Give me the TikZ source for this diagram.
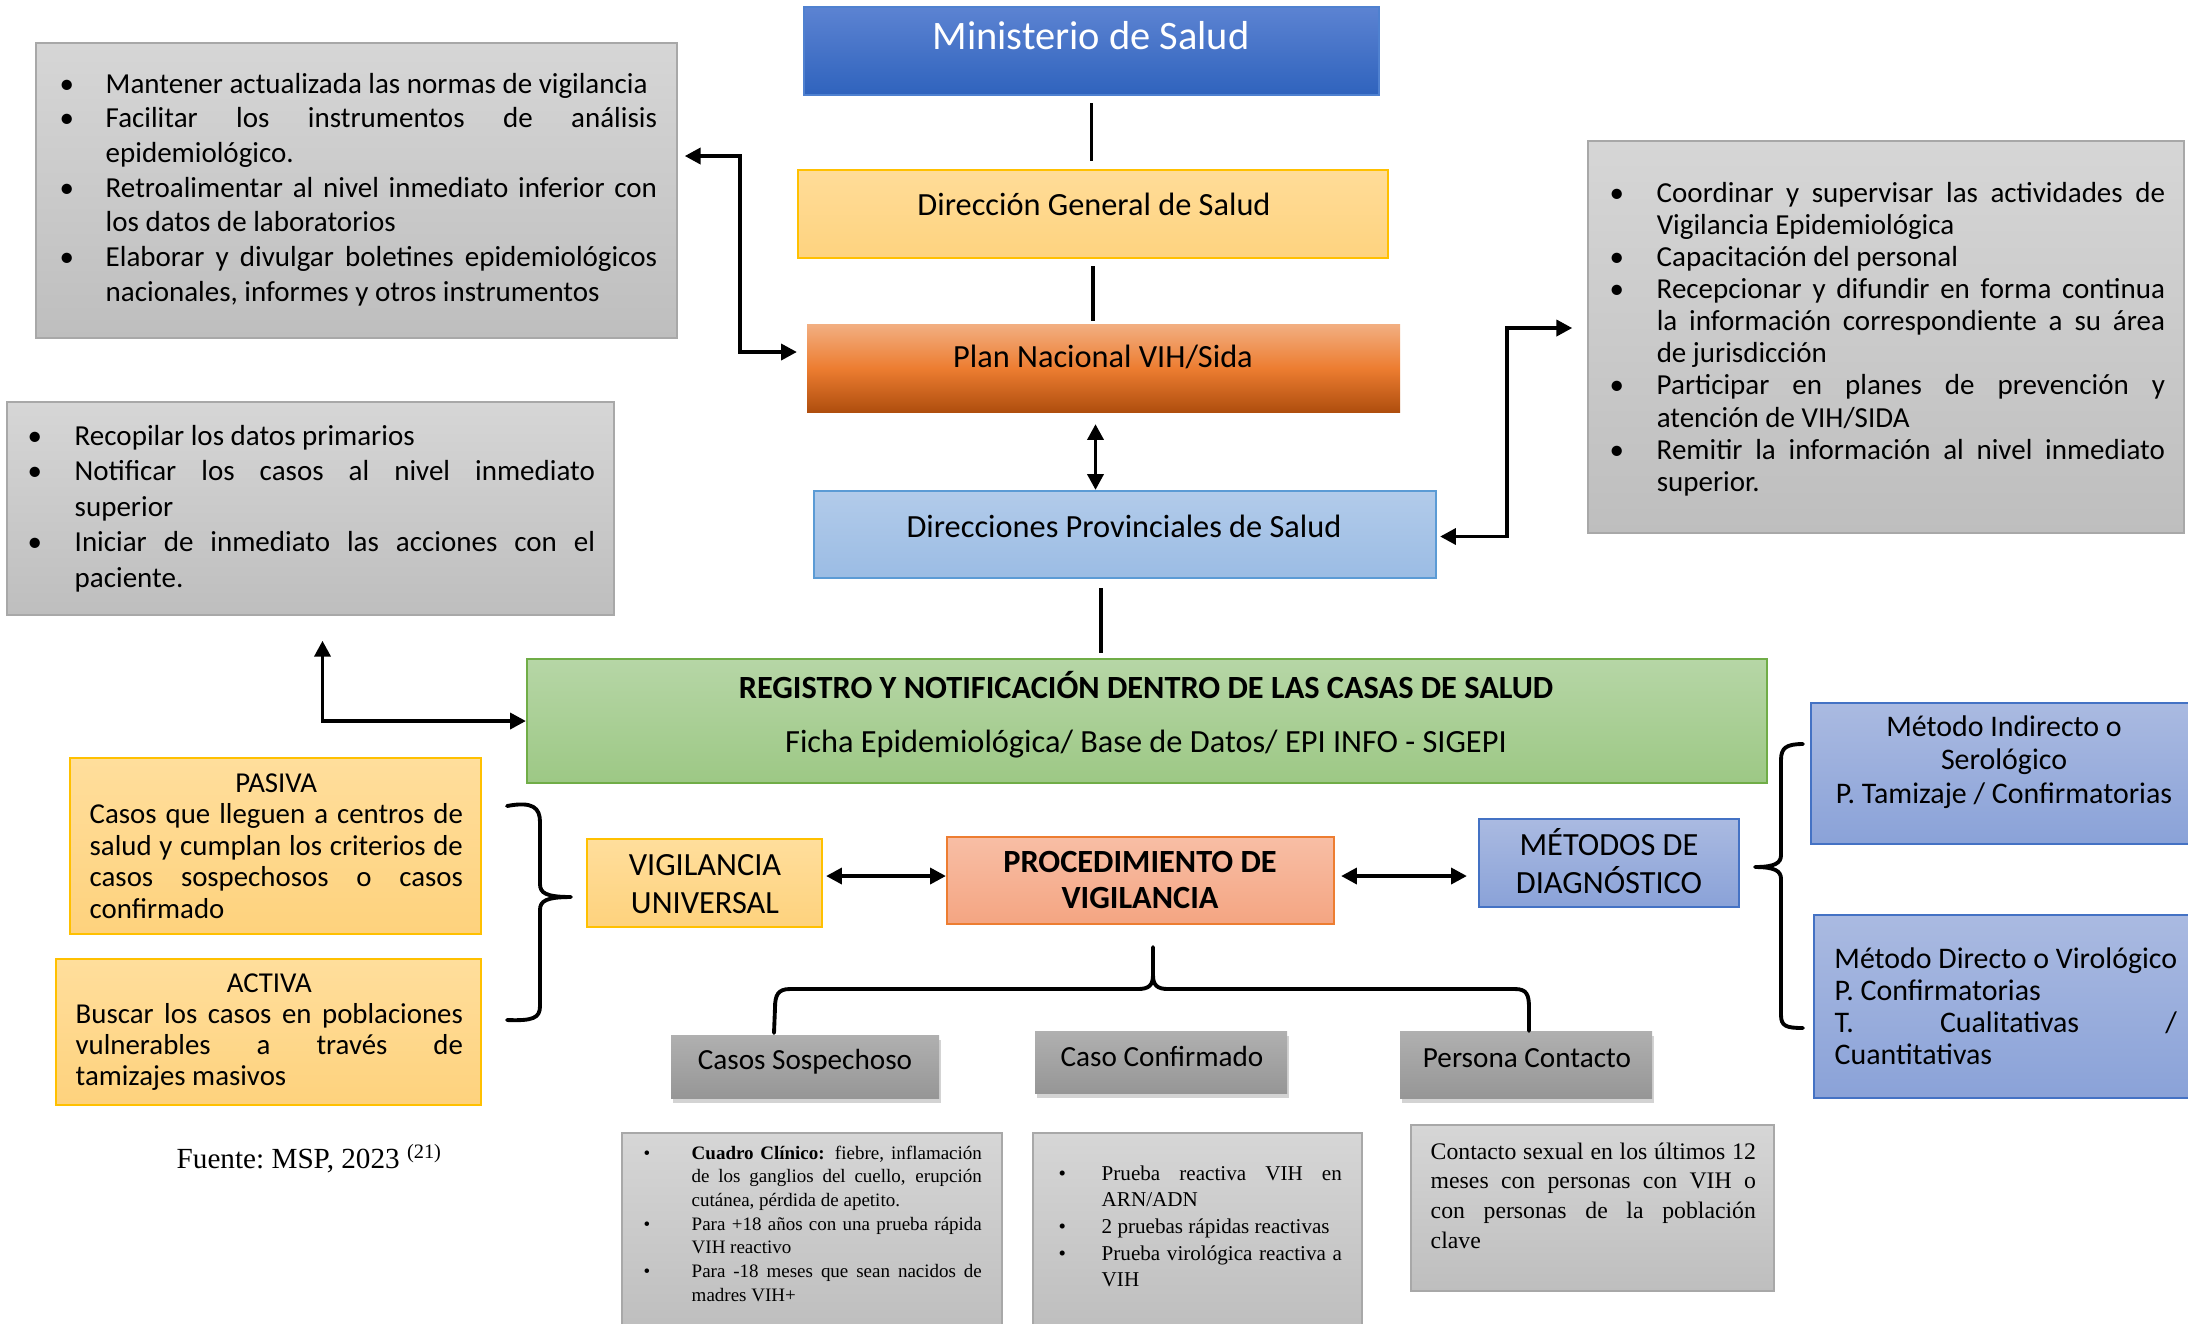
\documentclass[tikz,border=0pt]{standalone}
\usepackage{fontspec}
\setmainfont{Carlito}
\newfontfamily\tnr{Liberation Serif}
\usetikzlibrary{fit,calc,arrows.meta,shadows}
\definecolor{minT}{RGB}{92,131,210}
\definecolor{minB}{RGB}{47,99,189}
\definecolor{minD}{RGB}{79,129,208}
\definecolor{dgT}{RGB}{255,220,152}
\definecolor{dgB}{RGB}{254,211,127}
\definecolor{gold}{RGB}{255,192,0}
\definecolor{plT}{RGB}{242,175,130}
\definecolor{plM}{RGB}{237,125,49}
\definecolor{plB}{RGB}{175,78,14}
\definecolor{dpT}{RGB}{178,203,234}
\definecolor{dpB}{RGB}{155,188,228}
\definecolor{dpD}{RGB}{91,155,213}
\definecolor{rgT}{RGB}{182,214,166}
\definecolor{rgB}{RGB}{157,200,133}
\definecolor{rgD}{RGB}{112,173,71}
\definecolor{gyT}{RGB}{214,214,214}
\definecolor{gyB}{RGB}{190,190,190}
\definecolor{gyD}{RGB}{168,168,168}
\definecolor{ylT}{RGB}{255,222,156}
\definecolor{ylB}{RGB}{254,210,125}
\definecolor{prT}{RGB}{248,190,165}
\definecolor{prB}{RGB}{244,165,130}
\definecolor{prD}{RGB}{237,125,49}
\definecolor{blT}{RGB}{170,186,225}
\definecolor{blB}{RGB}{138,162,216}
\definecolor{blD}{RGB}{68,114,196}
\definecolor{hdT}{RGB}{176,176,176}
\definecolor{hdB}{RGB}{150,150,150}
\newcommand\jset{\tolerance=10000\hyphenpenalty=10000\exhyphenpenalty=10000\relax}
\newlength\hng
\newcommand\bul[1]{\par\noindent\hangindent=\hng\hangafter=1\makebox[\hng][l]{\textbullet}\strut#1}
\newcommand\pbox[2]{\begin{minipage}[t]{#1}\jset#2\par\end{minipage}}
\begin{document}
\begin{tikzpicture}[x=0.01cm,y=-0.01cm,
  box/.style={inner sep=0pt, line width=0.6pt},
  gbox/.style={box, draw=gyD, line width=0.4pt, top color=gyT, bottom color=gyB},
  ybox/.style={box, draw=gold, top color=ylT, bottom color=ylB},
  bbox/.style={box, draw=blD, top color=blT, bottom color=blB},
  hdr/.style={box, top color=hdT, bottom color=hdB,
    drop shadow={opacity=0.35, shadow xshift=0.02cm, shadow yshift=-0.05cm}},
  tx/.style={inner sep=0pt},
  par/.style={tx, anchor=base west},
  con/.style={line width=1.1pt},
  arr/.style={line width=1.1pt, {Triangle[length=4.5pt,width=4.5pt]}-{Triangle[length=4.5pt,width=4.5pt]}},
  brc/.style={line width=1.1pt, line join=round, line cap=round},
]
\useasboundingbox (0,0) rectangle (2188,1323);

% ---------- main column ----------
\node[box, fit={(804,7)(1379,95)}, draw=minD, top color=minT, bottom color=minB] (min) {};
\node[tx, text=white, font=\fontsize{11.5}{13}\selectfont] (mint) at (1091,36) {Ministerio de Salud};

\node[box, fit={(798,170)(1388,258)}, draw=gold, top color=dgT, bottom color=dgB] (dg) {};
\node[tx, font=\fontsize{9.2}{11}\selectfont] (dgt) at (1094,204) {Dirección General de Salud};

\node[box, fit={(807,324)(1400,412)}, draw=none, top color=plT, bottom color=plB, middle color=plM] (plan) {};
\node[tx, font=\fontsize{9.2}{11}\selectfont] (plant) at (1103,357) {Plan Nacional VIH/Sida};

\node[box, fit={(814,491)(1436,578)}, draw=dpD, top color=dpT, bottom color=dpB] (dp) {};
\node[tx, font=\fontsize{9.2}{11}\selectfont] (dpt) at (1124,526) {Direcciones Provinciales de Salud};

\node[box, fit={(527,659)(1767,783)}, draw=rgD, top color=rgT, bottom color=rgB] (reg) {};
\node[tx, font=\bfseries\fontsize{9.2}{11}\selectfont] (rg1) at (1146,685) {REGISTRO Y NOTIFICACIÓN DENTRO DE LAS CASAS DE SALUD};
\node[tx, font=\fontsize{9.2}{11}\selectfont] (rg2) at (1146,744) {Ficha Epidemiológica/ Base de Datos/ EPI INFO - SIGEPI};

% ---------- gray info boxes ----------
\node[gbox, fit={(36,43)(677,338)}] (lt) {};
\node[par, font=\fontsize{8.25}{9.87}\selectfont] (ltt) at (59,93) {\pbox{5.97cm}{\setlength\hng{0.46cm}%
\bul{Mantener actualizada las normas de vigilancia}%
\bul{Facilitar los instrumentos de análisis\linebreak epidemiológico.}%
\bul{Retroalimentar al nivel inmediato inferior con\linebreak los datos de laboratorios}%
\bul{Elaborar y divulgar boletines epidemiológicos\linebreak nacionales, informes y otros instrumentos}}};

\node[gbox, fit={(1588,141)(2184,533)}] (rt) {};
\node[par, font=\fontsize{8.25}{9.14}\selectfont] (rtt) at (1609,202) {\pbox{5.55cm}{\setlength\hng{0.47cm}%
\bul{Coordinar y supervisar las actividades de\linebreak Vigilancia Epidemiológica}%
\bul{Capacitación del personal}%
\bul{Recepcionar y difundir en forma continua\linebreak la información correspondiente a su área\linebreak de jurisdicción}%
\bul{Participar en planes de prevención y\linebreak atención de VIH/SIDA}%
\bul{Remitir la información al nivel inmediato\linebreak superior.}}};

\node[gbox, fit={(7,402)(614,615)}] (lm) {};
\node[par, font=\fontsize{8.25}{10.1}\selectfont] (lmt) at (27,445) {\pbox{5.67cm}{\setlength\hng{0.47cm}%
\bul{Recopilar los datos primarios}%
\bul{Notificar los casos al nivel inmediato\linebreak superior}%
\bul{Iniciar de inmediato las acciones con el\linebreak paciente.}}};

% ---------- vigilance row ----------
\node[ybox, fit={(70,758)(481,934)}] (pas) {};
\node[par, font=\fontsize{8.2}{9.0}\selectfont] (past) at (89,792) {\pbox{3.73cm}{\centerline{PASIVA}\noindent Casos que lleguen a centros de\linebreak salud y cumplan los criterios de\linebreak casos sospechosos o casos\linebreak confirmado}};

\node[ybox, fit={(56,959)(481,1105)}] (act) {};
\node[par, font=\fontsize{8.2}{8.9}\selectfont] (actt) at (75,992) {\pbox{3.87cm}{\centerline{ACTIVA}\noindent Buscar los casos en poblaciones\linebreak vulnerables a través de\linebreak tamizajes masivos}};

\node[ybox, fit={(587,839)(822,927)}] (vu) {};
\node[tx, align=center, font=\fontsize{9.2}{10.8}\selectfont] (vut) at (705,884) {VIGILANCIA\\UNIVERSAL};

\node[box, fit={(947,837)(1334,924)}, draw=prD, top color=prT, bottom color=prB] (proc) {};
\node[tx, align=center, font=\bfseries\fontsize{9.2}{10.2}\selectfont] (proct) at (1140,880) {PROCEDIMIENTO DE\\VIGILANCIA};

\node[bbox, fit={(1479,819)(1739,907)}] (met) {};
\node[tx, align=center, font=\fontsize{9.2}{10.8}\selectfont] (mett) at (1609,861) {MÉTODOS DE\\DIAGNÓSTICO};

\node[bbox, fit={(1811,703)(2192,844)}] (mi) {};
\node[tx, align=center, font=\fontsize{8.5}{9.5}\selectfont] (mit) at (2004,762) {Método Indirecto o\\Serológico\\P. Tamizaje / Confirmatorias};

\node[bbox, fit={(1814,915)(2192,1098)}] (md) {};
\node[par, font=\fontsize{8.5}{9.1}\selectfont] (mdt) at (1834,968) {\pbox{3.42cm}{\centerline{Método Directo o Virológico}\noindent P. Confirmatorias\par\noindent T. Cualitativas /\linebreak Cuantitativas}};

% ---------- case types ----------
\node[hdr, fit={(671,1035)(939,1098)}] (cs) {};
\node[tx, font=\fontsize{8.3}{10}\selectfont] (cst) at (805,1062) {Casos Sospechoso};
\node[hdr, fit={(1035,1031)(1287,1093)}] (cc) {};
\node[tx, font=\fontsize{8.3}{10}\selectfont] (cct) at (1162,1056) {Caso Confirmado};
\node[hdr, fit={(1400,1031)(1652,1098)}] (pc) {};
\node[tx, font=\fontsize{8.3}{10}\selectfont] (pct) at (1527,1058) {Persona Contacto};

\node[gbox, fit={(622,1133)(1002,1330)}] (b1) {};
\node[par, font={\tnr\fontsize{5.4}{6.75}\selectfont}] (b1t) at (643,1159) {\pbox{3.38cm}{\setlength\hng{0.48cm}%
\bul{\textbf{Cuadro Clínico:} fiebre, inflamación\linebreak de los ganglios del cuello, erupción\linebreak cutánea, pérdida de apetito.}%
\bul{Para +18 años con una prueba rápida\linebreak VIH reactivo}%
\bul{Para -18 meses que sean nacidos de\linebreak madres VIH+}}};

\node[gbox, fit={(1033,1133)(1362,1330)}] (b2) {};
\node[par, font={\tnr\fontsize{6.0}{7.6}\selectfont}] (b2t) at (1058,1180) {\pbox{2.83cm}{\setlength\hng{0.43cm}%
\bul{Prueba reactiva VIH en\linebreak ARN/ADN}%
\bul{2 pruebas rápidas reactivas}%
\bul{Prueba virológica reactiva a\linebreak VIH}}};

\node[gbox, fit={(1411,1125)(1774,1291)}] (b3) {};
\node[par, font={\tnr\fontsize{6.75}{8.5}\selectfont}] (b3t) at (1430,1159) {\pbox{3.25cm}{\noindent Contacto sexual en los últimos 12\linebreak meses con personas con VIH o\linebreak con personas de la población\linebreak clave}};

\node[tx, anchor=base west, font={\tnr\fontsize{8.3}{10}\selectfont}] (fte) at (176,1168) {\frenchspacing Fuente: MSP, 2023 \textsuperscript{(21)}};

% ---------- connectors ----------
\draw[con, shorten <=0.07cm, shorten >=0.08cm] (min.south) -- (min.south |- dg.north);
\draw[con, shorten <=0.07cm, shorten >=0.02cm] (dg.south) -- (dg.south |- plan.north);
\coordinate (pd) at ($(plan.south)+(-8,0)$);
\draw[arr, shorten <=0.11cm] (pd) -- (pd |- dp.north);
\coordinate (dr) at ($(dp.south)+(-24,0)$);
\draw[con, shorten <=0.09cm, shorten >=0.05cm] (dr) -- (dr |- reg.north);

\coordinate (pl1) at ($(plan.west)+(-9,-16)$);
\coordinate (lt1) at ($(lt.east)+(7,-34.5)$);
\draw[arr] (pl1) -- ++(-57,0) |- (lt1);

\coordinate (dp1) at ($(dp.east)+(3,2)$);
\coordinate (rt1) at ($(rt.west)+(-15,-9)$);
\draw[arr] (dp1) -- ++(67,0) |- (rt1);

\coordinate (lm1) at ($(lm.south)+(12,25)$);
\draw[arr] (reg.west) -| (lm1);

\coordinate (v1) at ($(vu.east)+(3,-7)$);
\draw[arr] (v1) -- (v1 -| proc.west);
\coordinate (m1) at ($(proc.east)+(6,-4.5)$);
\draw[arr, shorten >=0.11cm] (m1) -- (m1 -| met.west);

% ---------- braces ----------
\draw[brc] (507,806) .. controls (533,801) and (540,808) .. (540,822) -- (540,884)
  .. controls (540,893) and (546,897) .. (571,897)
  .. controls (546,897) and (540,901) .. (540,910) -- (540,1006)
  .. controls (540,1018) and (533,1021) .. (507,1020);
\draw[brc] (1803,744) .. controls (1786,744) and (1781,748) .. (1781,760) -- (1781,855)
  .. controls (1781,863) and (1775,867) .. (1755,867)
  .. controls (1775,867) and (1781,871) .. (1781,879) -- (1781,1015)
  .. controls (1781,1026) and (1786,1028) .. (1803,1028);
\draw[brc] (1153,947) -- (1153,975) .. controls (1153,985) and (1149,989) .. (1138,989)
  -- (790,989) .. controls (778,989) and (775,995) .. (775,1008) -- (774,1033);
\draw[brc] (1153,975) .. controls (1153,985) and (1157,989) .. (1168,989)
  -- (1515,989) .. controls (1527,989) and (1529,995) .. (1529,1008) -- (1529,1031);
\end{tikzpicture}
\end{document}
